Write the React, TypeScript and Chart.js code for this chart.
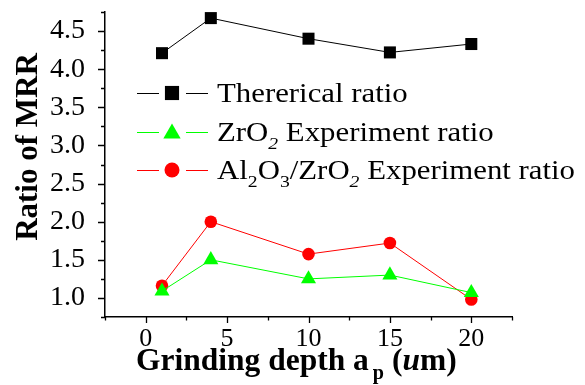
import React, { useEffect, useRef } from 'react';
import { Chart, registerables } from 'chart.js';

Chart.register(...registerables);

// ---- data ----
const depths = [1, 4, 10, 15, 20];
const theoretical = [4.21, 4.67, 4.4, 4.22, 4.33];
const zro2Exp = [1.09, 1.5, 1.25, 1.3, 1.07];
const al2o3Exp = [1.16, 2.0, 1.575, 1.72, 0.98];

const xTicks = [0, 5, 10, 15, 20];
const xMinorTicks = [-2.5, 2.5, 7.5, 12.5, 17.5, 22.5];
const yTicks = [1.0, 1.5, 2.0, 2.5, 3.0, 3.5, 4.0, 4.5];
const yMinorTicks = [0.75, 1.25, 1.75, 2.25, 2.75, 3.25, 3.75, 4.25, 4.75];

const seriesColors = ['#000000', '#00ff00', '#ff0000'];
const seriesShapes = ['rect', 'triangle', 'circle'];

type Seg = { t: string; sub?: boolean; italic?: boolean; gap?: number };

const legendLabels: Seg[][] = [
  [{ t: 'Thererical ratio' }],
  [{ t: 'ZrO' }, { t: '2', sub: true, italic: true }, { t: ' Experiment ratio' }],
  [
    { t: 'Al' },
    { t: '2', sub: true },
    { t: 'O' },
    { t: '3', sub: true },
    { t: '/ZrO' },
    { t: '2', sub: true, italic: true },
    { t: ' Experiment ratio' },
  ],
];

const xTitle: Seg[] = [
  { t: 'Grinding depth a' },
  { t: 'p', sub: true, gap: 4 },
  { t: ' (' },
  { t: 'u', italic: true },
  { t: 'm)' },
];
const yTitle = 'Ratio of MRR';

const SERIF = '"Liberation Serif", "Times New Roman", Times, serif';

function drawRich(
  ctx: CanvasRenderingContext2D,
  x: number,
  y: number,
  segs: Seg[],
  size: number,
  bold: boolean,
  scaleX: number
) {
  ctx.save();
  ctx.translate(x, y);
  ctx.scale(scaleX, 1);
  ctx.textAlign = 'left';
  ctx.textBaseline = 'alphabetic';
  ctx.fillStyle = '#000';
  let cx = 0;
  for (const s of segs) {
    cx += s.gap || 0;
    const fs = s.sub ? size * 0.64 : size;
    ctx.font = `${s.italic ? 'italic ' : ''}${bold ? 'bold ' : ''}${fs}px ${SERIF}`;
    const dy = s.sub ? size * 0.28 : 0;
    ctx.fillText(s.t, cx, dy);
    cx += ctx.measureText(s.t).width;
  }
  ctx.restore();
}

function drawMarker(ctx: CanvasRenderingContext2D, shape: string, x: number, y: number, r: number, color: string) {
  ctx.fillStyle = color;
  ctx.beginPath();
  if (shape === 'rect') {
    const h = r * Math.SQRT1_2;
    ctx.rect(x - h, y - h, 2 * h, 2 * h);
  } else if (shape === 'triangle') {
    ctx.moveTo(x, y - r);
    ctx.lineTo(x + r * Math.cos(Math.PI / 6), y + r / 2);
    ctx.lineTo(x - r * Math.cos(Math.PI / 6), y + r / 2);
    ctx.closePath();
  } else {
    ctx.arc(x, y, r, 0, Math.PI * 2);
  }
  ctx.fill();
}

const customDraw = {
  id: 'customDraw',
  afterDraw(chart: any) {
    const ctx: CanvasRenderingContext2D = chart.ctx;
    const xs = chart.scales.x;
    const ys = chart.scales.y;
    const area = chart.chartArea;
    ctx.save();
    // tick marks (outward)
    ctx.strokeStyle = '#000';
    ctx.lineWidth = 1.3;
    ctx.beginPath();
    for (const v of xTicks) {
      const px = Math.round(xs.getPixelForValue(v)) + 0.5;
      ctx.moveTo(px, area.bottom);
      ctx.lineTo(px, area.bottom + 6);
    }
    for (const v of xMinorTicks) {
      const px = Math.round(xs.getPixelForValue(v)) + 0.5;
      ctx.moveTo(px, area.bottom);
      ctx.lineTo(px, area.bottom + 3.5);
    }
    for (const v of yTicks) {
      const py = Math.round(ys.getPixelForValue(v)) + 0.5;
      ctx.moveTo(area.left, py);
      ctx.lineTo(area.left - 7, py);
    }
    for (const v of yMinorTicks) {
      const py = Math.round(ys.getPixelForValue(v)) + 0.5;
      ctx.moveTo(area.left, py);
      ctx.lineTo(area.left - 4, py);
    }
    ctx.stroke();

    // legend
    const rowsY = [93, 132, 170];
    const radii = [10, 10, 7.5];
    chart.data.datasets.forEach((ds: any, i: number) => {
      const y = rowsY[i];
      ctx.strokeStyle = seriesColors[i];
      ctx.lineWidth = 1;
      ctx.beginPath();
      ctx.moveTo(137, y + 0.5);
      ctx.lineTo(159, y + 0.5);
      ctx.moveTo(186, y + 0.5);
      ctx.lineTo(208, y + 0.5);
      ctx.stroke();
      const my = seriesShapes[i] === 'triangle' ? y + 1.5 : y;
      drawMarker(ctx, seriesShapes[i], 172, my, radii[i], seriesColors[i]);
      drawRich(ctx, 217, y + 9, legendLabels[i], 27.5, false, 1.12);
    });

    // axis titles
    drawRich(ctx, 136, 370, xTitle, 31.5, true, 1.0);
    ctx.save();
    ctx.translate(37, 147);
    ctx.rotate(-Math.PI / 2);
    ctx.font = `bold 31px ${SERIF}`;
    ctx.fillStyle = '#000';
    ctx.textAlign = 'center';
    ctx.textBaseline = 'alphabetic';
    ctx.fillText(yTitle, 0, 0);
    ctx.restore();

    ctx.restore();
  },
};

export default function App() {
  const canvasRef = useRef<HTMLCanvasElement>(null);

  useEffect(() => {
    const canvas = canvasRef.current;
    if (!canvas) return;
    const mk = (vals: number[]) => depths.map((x, i) => ({ x, y: vals[i] }));
    const chart = new Chart(canvas, {
      type: 'line',
      data: {
        datasets: [
          {
            label: 'Thererical ratio',
            data: mk(theoretical),
            borderColor: seriesColors[0],
            backgroundColor: seriesColors[0],
            borderWidth: 1,
            pointStyle: 'rect',
            pointRadius: 8.5,
            pointBorderWidth: 0,
            order: 2,
          },
          {
            label: 'ZrO2 Experiment ratio',
            data: mk(zro2Exp),
            borderColor: seriesColors[1],
            backgroundColor: seriesColors[1],
            borderWidth: 1,
            pointStyle: 'triangle',
            pointRadius: 8.7,
            pointBorderWidth: 0,
            order: 0,
          },
          {
            label: 'Al2O3/ZrO2 Experiment ratio',
            data: mk(al2o3Exp),
            borderColor: seriesColors[2],
            backgroundColor: seriesColors[2],
            borderWidth: 1,
            pointStyle: 'circle',
            pointRadius: 6.3,
            pointBorderWidth: 0,
            order: 1,
          },
        ],
      },
      options: {
        responsive: false,
        animation: false,
        devicePixelRatio: 1,
        layout: { padding: { left: 0, right: 73, top: 12, bottom: 0 } },
        plugins: {
          legend: { display: false },
          tooltip: { enabled: false },
          title: { display: false },
        },
        scales: {
          x: {
            type: 'linear',
            min: -2.5,
            max: 22.5,
            afterBuildTicks: (scale: any) => {
              scale.ticks = xTicks.map((v) => ({ value: v }));
            },
            afterFit: (scale: any) => {
              scale.height = 68;
              scale.paddingLeft = 0;
              scale.paddingRight = 0;
            },
            grid: { display: false },
            border: { display: true, color: '#000', width: 1.5 },
            ticks: {
              color: '#000',
              padding: -1,
              maxRotation: 0,
              font: { family: SERIF, size: 26 },
              callback: (v: any) => String(v),
            },
          },
          y: {
            type: 'linear',
            min: 0.75,
            max: 4.75,
            afterBuildTicks: (scale: any) => {
              scale.ticks = yTicks.map((v) => ({ value: v }));
            },
            afterFit: (scale: any) => {
              scale.width = 105;
              scale.paddingTop = 0;
              scale.paddingBottom = 0;
            },
            grid: { display: false },
            border: { display: true, color: '#000', width: 1.5 },
            ticks: {
              color: '#000',
              padding: 12,
              font: { family: SERIF, size: 28 },
              callback: (v: any) => Number(v).toFixed(1),
            },
          },
        },
      },
      plugins: [customDraw],
    });
    return () => chart.destroy();
  }, []);

  return (
    <div style={{ position: 'absolute', left: 0, top: 0, width: 585, height: 385, background: '#fff' }}>
      <canvas ref={canvasRef} width={585} height={385} />
    </div>
  );
}
